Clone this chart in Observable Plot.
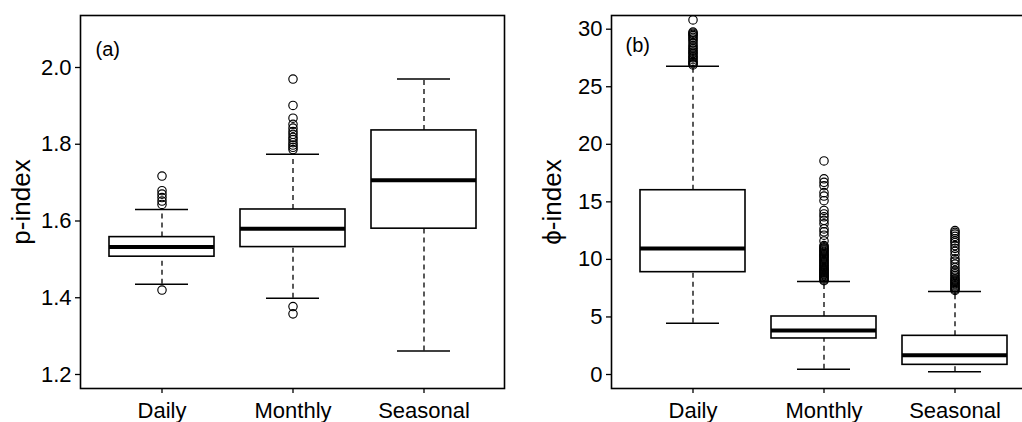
<!DOCTYPE html>
<html>
<head>
<meta charset="utf-8">
<script src="https://cdn.jsdelivr.net/npm/d3@7"></script>
<script src="https://cdn.jsdelivr.net/npm/@observablehq/plot@0.6"></script>
<style>
  html, body { margin: 0; padding: 0; background: #fff; }
  #wrap { position: relative; width: 1022px; height: 422px; overflow: hidden; background: #fff; }
  #left { position: absolute; left: 0; top: 0; width: 511px; height: 422px; }
  #right { position: absolute; left: 511px; top: 0; width: 528px; height: 422px; }
  #wrap svg { max-width: none !important; }
</style>
</head>
<body>
<div id="wrap"><div id="left"></div><div id="right"></div></div>
<script>
const categories = ["Daily", "Monthly", "Seasonal"];

// Panel (a): p-index box statistics
const pLow  = [1.435, 1.399, 1.261];
const pQ1   = [1.507, 1.532, 1.580];
const pMed  = [1.532, 1.580, 1.706];
const pQ3   = [1.558, 1.630, 1.836];
const pHigh = [1.630, 1.774, 1.970];
const pOutDaily = [1.420, 1.643, 1.652, 1.661, 1.670, 1.679, 1.717];
const pOutMonthly = [1.358, 1.377, 1.786, 1.792, 1.798, 1.804, 1.812, 1.818, 1.826, 1.833, 1.842, 1.852, 1.868, 1.901, 1.970];
const pOutSeasonal = [];
const pTicks = [1.2, 1.4, 1.6, 1.8, 2.0];

// Panel (b): phi-index box statistics
const phiLow  = [4.46, 0.46, 0.23];
const phiQ1   = [8.89, 3.13, 0.84];
const phiMed  = [10.95, 3.82, 1.68];
const phiQ3   = [16.01, 5.04, 3.36];
const phiHigh = [26.79, 8.08, 7.21];
const phiOutDaily = [26.9, 27.0, 27.1, 27.2, 27.35, 27.5, 27.6, 27.75, 27.9, 28.0, 28.15, 28.3, 28.45, 28.6, 28.8, 29.0, 29.15, 29.3, 29.45, 29.55, 29.65, 29.75, 30.8];
const phiOutMonthly = [8.15, 8.22, 8.3, 8.38, 8.45, 8.52, 8.6, 8.68, 8.75, 8.83, 8.9, 8.98, 9.05, 9.13, 9.2, 9.3, 9.4, 9.5, 9.6, 9.7, 9.8, 9.9, 10.0, 10.1, 10.2, 10.3, 10.4, 10.5, 10.6, 10.7, 10.8, 10.9, 11.0, 11.1, 11.2, 11.6, 12.1, 12.4, 12.65, 13.1, 13.4, 13.7, 13.95, 14.25, 15.1, 15.5, 15.8, 16.4, 16.7, 17.0, 18.55];
const phiOutSeasonal = [7.3, 7.4, 7.5, 7.6, 7.7, 7.8, 7.9, 8.0, 8.1, 8.2, 8.3, 8.45, 8.6, 8.75, 8.9, 9.05, 9.3, 9.6, 9.85, 10.05, 10.4, 10.7, 10.95, 11.2, 11.45, 11.6, 11.8, 12.0, 12.2, 12.35, 12.5];
const phiTicks = [0, 5, 10, 15, 20, 25, 30];

const FONT = "'Liberation Sans', Arial, sans-serif";

function panel({low, q1, med, q3, high, outs, ticks, domain, label, tag, width, marginLeft, marginRight, labelDx, tagDx, tagDy}) {
  const stats = categories.map((c, i) => ({cat: c, low: low[i], q1: q1[i], med: med[i], q3: q3[i], high: high[i]}));
  const outliers = categories.flatMap((c, i) => outs[i].map(v => ({cat: c, v})));
  return Plot.plot({
    width, height: 422,
    marginLeft, marginRight, marginTop: 15, marginBottom: 34,
    style: {fontFamily: FONT, background: "white", color: "black"},
    x: {domain: categories, paddingInner: 0.2, paddingOuter: 0.212, label: null},
    y: {domain, label: null},
    marks: [
      Plot.axisY({ticks, tickSize: 5, tickPadding: 4, fontSize: 22, tickFormat: d => ticks.some(t => t % 1 !== 0) ? d.toFixed(1) : String(d), strokeWidth: 1.3}),
      Plot.axisX({tickSize: 5, tickPadding: 9, fontSize: 22, strokeWidth: 1.3}),
      Plot.ruleX(stats, {x: "cat", y1: "q3", y2: "high", stroke: "black", strokeWidth: 1.3, strokeDasharray: "5,4"}),
      Plot.ruleX(stats, {x: "cat", y1: "low", y2: "q1", stroke: "black", strokeWidth: 1.3, strokeDasharray: "5,4"}),
      Plot.tickY(stats, {x: "cat", y: "high", stroke: "black", strokeWidth: 1.5, insetLeft: 26, insetRight: 26}),
      Plot.tickY(stats, {x: "cat", y: "low", stroke: "black", strokeWidth: 1.5, insetLeft: 26, insetRight: 26}),
      Plot.barY(stats, {x: "cat", y1: "q1", y2: "q3", fill: "white", stroke: "black", strokeWidth: 1.6}),
      Plot.tickY(stats, {x: "cat", y: "med", stroke: "black", strokeWidth: 4}),
      Plot.dot(outliers, {x: "cat", y: "v", r: 4.2, stroke: "black", strokeWidth: 1.15, fill: "none"}),
      Plot.frame({stroke: "black", strokeWidth: 1.6}),
      Plot.text([label], {text: d => d, frameAnchor: "left", dx: labelDx, rotate: -90, fontSize: 26, fill: "black", textAnchor: "middle"}),
      Plot.text([tag], {text: d => d, frameAnchor: "top-left", dx: tagDx, dy: tagDy, fontSize: 20, fill: "black", textAnchor: "start"})
    ]
  });
}

document.getElementById("left").appendChild(panel({
  low: pLow, q1: pQ1, med: pMed, q3: pQ3, high: pHigh,
  outs: [pOutDaily, pOutMonthly, pOutSeasonal],
  ticks: pTicks, domain: [1.1635, 2.1355], label: "p-index", tag: "(a)",
  width: 511, marginLeft: 80, marginRight: 7, labelDx: -59, tagDx: 15, tagDy: 26
}));

document.getElementById("right").appendChild(panel({
  low: phiLow, q1: phiQ1, med: phiMed, q3: phiQ3, high: phiHigh,
  outs: [phiOutDaily, phiOutMonthly, phiOutSeasonal],
  ticks: phiTicks, domain: [-1.216, 31.19], label: "ϕ-index", tag: "(b)",
  width: 528, marginLeft: 100, marginRight: 4, labelDx: -59, tagDx: 14, tagDy: 22
}));
</script>
</body>
</html>
